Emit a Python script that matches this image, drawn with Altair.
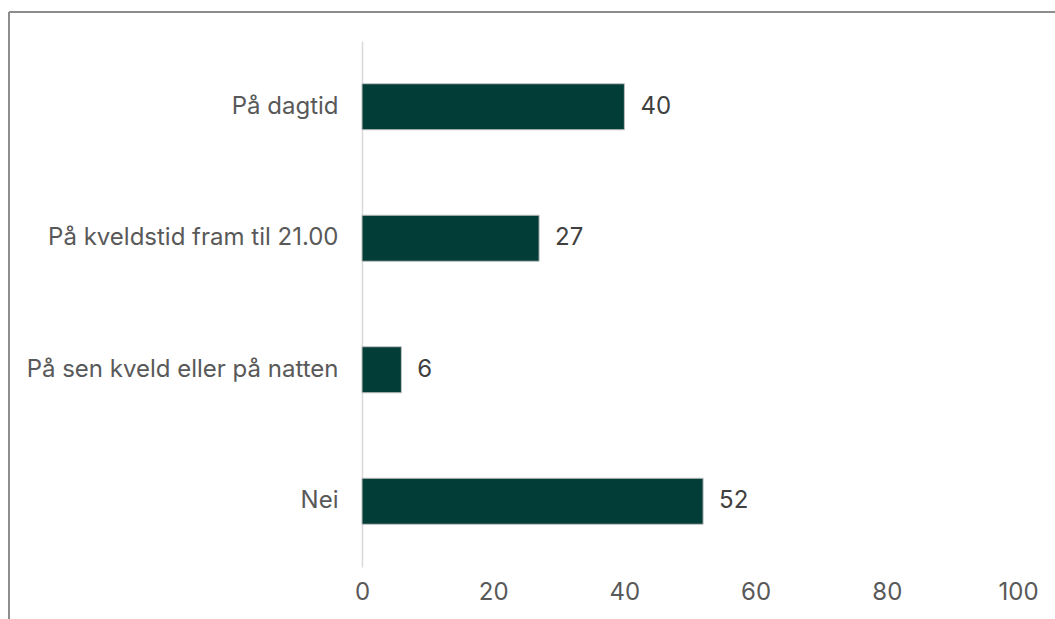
import altair as alt
import pandas as pd

categories = ["På dagtid", "På kveldstid fram til 21.00", "På sen kveld eller på natten", "Nei"]
values = [40, 27, 6, 52]
x_ticks = [0, 20, 40, 60, 80, 100]

df = pd.DataFrame({"cat": categories, "val": values})

FONT = "Inter"
FS = 24
W, H = 656, 526
PL, PT = 362, 41

y_enc = alt.Y("cat:N", sort=categories, title=None,
              scale=alt.Scale(paddingInner=0.65, paddingOuter=0.325),
              axis=alt.Axis(domain=True, domainColor="#d9d9d9", domainWidth=1.5,
                            ticks=False, labelFontSize=FS, labelColor="#595959",
                            labelFont=FONT, labelPadding=24, labelLimit=400))
x_enc = alt.X("val:Q", title=None, scale=alt.Scale(domain=[0, 100], nice=False),
              axis=alt.Axis(values=x_ticks, domain=False, ticks=False, grid=False,
                            labelFlush=False,
                            labelFontSize=FS, labelColor="#595959", labelFont=FONT,
                            labelPadding=13))

bars = alt.Chart(df).mark_bar(color="#023d37", stroke="#bfbfbf", strokeWidth=1).encode(
    x=x_enc, y=y_enc)

labels = alt.Chart(df).mark_text(align="left", baseline="middle", dx=16, fontSize=FS,
                                  font=FONT, color="#404040").encode(
    x=alt.X("val:Q"), y=alt.Y("cat:N", sort=categories), text="val:Q")

frame_top = alt.Chart(df).mark_rule(color="#8c8c8c", strokeWidth=1.5).encode(
    x=alt.value(9 - PL), x2=alt.value(1060 - PL), y=alt.value(12 - PT))
frame_left = alt.Chart(df).mark_rule(color="#8c8c8c", strokeWidth=1.5).encode(
    x=alt.value(9 - PL), y=alt.value(12 - PT), y2=alt.value(625 - PT))

chart = alt.layer(frame_top, frame_left, bars, labels).properties(
    width=W, height=H,
    autosize=alt.AutoSizeParams(type="none"),
    padding={"left": PL, "top": PT, "right": 1055 - PL - W, "bottom": 619 - PT - H},
    background="white",
).configure_view(stroke=None)

chart.save("out.html", embed_options={"renderer": "svg", "actions": False})
